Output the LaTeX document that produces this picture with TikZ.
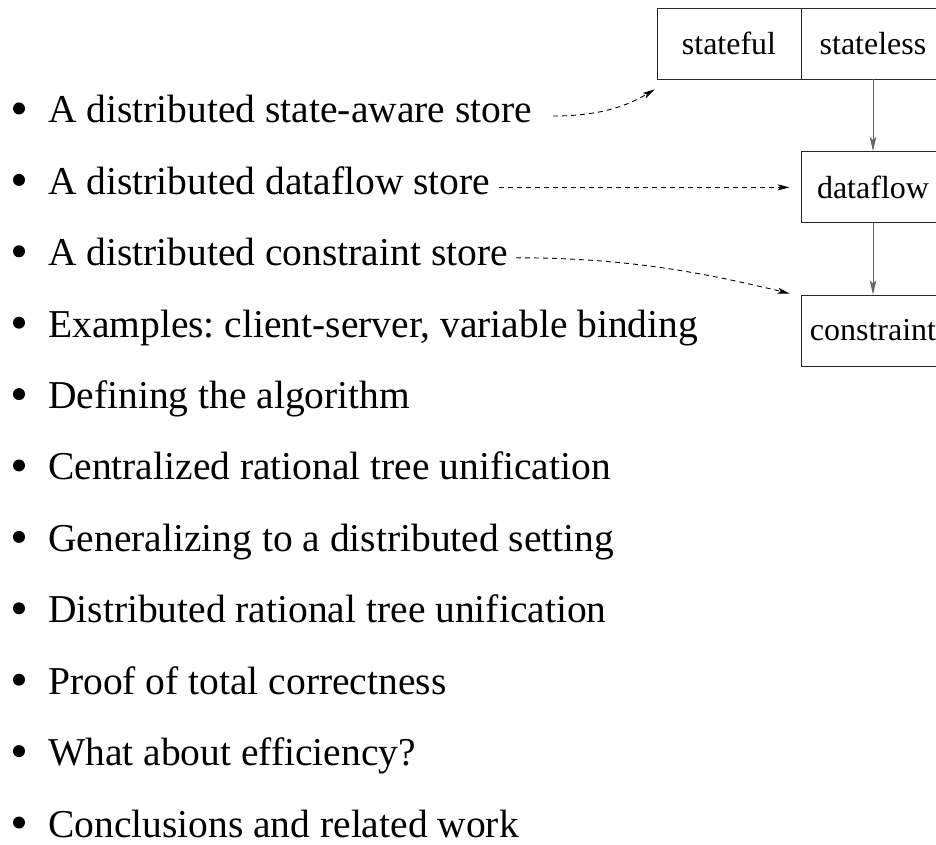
\documentclass[tikz,border=0pt]{standalone}
\usepackage{fontspec}
\setmainfont{Liberation Serif}
\usetikzlibrary{arrows.meta}
\frenchspacing
\begin{document}
\begin{tikzpicture}[x=1pt,y=1pt,
  item/.style={anchor=base west,inner sep=0pt,font=\fontsize{39.5}{47}\selectfont},
  dot/.style={circle,fill=black,inner sep=0pt,minimum size=12pt},
  storebox/.style={draw=black!85,line width=0.9pt,minimum width=144pt,minimum height=71pt,inner sep=0pt,font=\fontsize{32}{38}\selectfont},
  flow/.style={draw=black!60,line width=1pt,-{Stealth[length=14pt,width=6.5pt,inset=3pt]}},
  link/.style={line width=0.9pt,dash pattern=on 5pt off 4pt,-{Stealth[length=12pt,width=6pt,inset=3pt]}}]
\useasboundingbox (0,0) rectangle (936,844);
% boxes
\node[storebox] (stateful) at (729,800.5) {stateful};
\node[storebox] (stateless) at (873,800.5) {stateless};
\node[storebox] (dataflow) at (873,657) {dataflow};
\node[storebox] (constraint) at (873,513.5) {constraint};
% items
\foreach \i/\t in {0/{A distributed state-aware store},
                   1/{A distributed dataflow store},
                   2/{A distributed constraint store},
                   3/{Examples: client-server, variable binding},
                   4/{Defining the algorithm},
                   5/{Centralized rational tree unification},
                   6/{Generalizing to a distributed setting},
                   7/{Distributed rational tree unification},
                   8/{Proof of total correctness},
                   9/{What about efficiency?},
                   10/{Conclusions and related work}}{
  \node[item] (t\i) at (48,{721-71.4*\i}) {\t};
  \node[dot] (b\i) at (19,{721-71.4*\i+14.5}) {};
}
% vertical arrows
\draw[flow] (stateless.south) -- (dataflow.north);
\draw[flow] (dataflow.south) -- (constraint.north);
% dashed links
\coordinate (s0) at ([shift={(21pt,7pt)}]t0.base east);
\coordinate (s1) at ([shift={(9pt,7pt)}]t1.base east);
\coordinate (s2) at ([shift={(8pt,8pt)}]t2.base east);
\draw[link] (s0) .. controls +(50,0) and +(-25,-15) .. ([shift={(-2pt,-10pt)}]stateful.south west);
\draw[link,shorten >=11pt] (s1) -- (dataflow.west |- s1);
\draw[link] (s2) .. controls +(107,0) and +(-90,22) .. ([shift={(-11pt,1pt)}]constraint.north west);
\end{tikzpicture}
\end{document}
